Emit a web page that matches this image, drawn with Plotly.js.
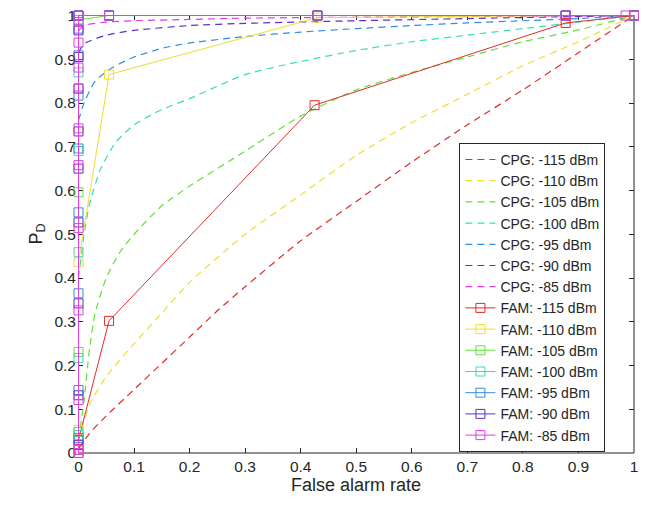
<!DOCTYPE html>
<html>
<head>
<meta charset="utf-8">
<script src="https://cdn.plot.ly/plotly-3.0.1.min.js"></script>
<style>html,body{margin:0;padding:0;background:#fff;}#chart{width:650px;height:508px;}</style>
</head>
<body>
<div id="chart"></div>
<script>
// ---- Data ----
const levels = ['-115', '-110', '-105', '-100', '-95', '-90', '-85'];
const colors = ['#e32b2b', '#f0dd30', '#62e03a', '#33e0b8', '#2f8ee0', '#5a32c8', '#e23ce2'];

// CPG curves (dashed)
const cpgX115 = [0, 0.02, 0.05, 0.1, 0.15, 0.2, 0.25, 0.3, 0.4, 0.5, 0.6, 0.7, 0.8, 0.9, 1];
const cpgY115 = [0.01, 0.045, 0.085, 0.145, 0.205, 0.265, 0.325, 0.38, 0.485, 0.575, 0.665, 0.75, 0.83, 0.915, 1];
const cpgX110 = [0, 0.02, 0.05, 0.1, 0.15, 0.2, 0.3, 0.4, 0.5, 0.6, 0.7, 0.8, 0.9, 1];
const cpgY110 = [0.03, 0.11, 0.175, 0.25, 0.32, 0.39, 0.50, 0.59, 0.68, 0.755, 0.82, 0.885, 0.94, 1];
const cpgX105 = [0, 0.01, 0.02, 0.03, 0.05, 0.075, 0.1, 0.15, 0.2, 0.3, 0.4, 0.5, 0.6, 0.7, 0.8, 0.9, 1];
const cpgY105 = [0.03, 0.12, 0.24, 0.32, 0.40, 0.46, 0.50, 0.565, 0.61, 0.69, 0.77, 0.83, 0.87, 0.905, 0.94, 0.967, 1];
const cpgX100 = [0, 0.005, 0.01, 0.02, 0.04, 0.067, 0.1, 0.15, 0.2, 0.3, 0.4, 0.5, 0.6, 0.7, 0.8, 0.9, 1];
const cpgY100 = [0.40, 0.45, 0.50, 0.57, 0.65, 0.71, 0.75, 0.785, 0.81, 0.865, 0.895, 0.92, 0.94, 0.955, 0.97, 0.985, 1];
const cpgX95 = [0, 0.01, 0.03, 0.06, 0.1, 0.15, 0.2, 0.3, 0.4, 0.5, 0.6, 0.7, 0.8, 0.9, 1];
const cpgY95 = [0.76, 0.80, 0.85, 0.88, 0.905, 0.925, 0.937, 0.952, 0.962, 0.97, 0.977, 0.983, 0.988, 0.993, 1];
const cpgX90 = [0, 0.01, 0.05, 0.1, 0.2, 0.3, 0.5, 0.7, 1];
const cpgY90 = [0.915, 0.935, 0.955, 0.966, 0.977, 0.982, 0.988, 0.993, 1];
const cpgX85 = [0, 0.01, 0.05, 0.1, 0.2, 0.3, 0.5, 1];
const cpgY85 = [0.965, 0.977, 0.985, 0.988, 0.991, 0.994, 0.996, 1];

// FAM curves (solid with square markers)
const famX115 = [0, 0, 0.055, 0.425, 0.877, 1];
const famY115 = [0, 0.03, 0.302, 0.795, 0.983, 1];
const famX110 = [0, 0, 0, 0.055, 0.43, 0.877, 1];
const famY110 = [0, 0.053, 0.436, 0.865, 0.995, 1, 1];
const famX105 = [0, 0, 0, 0, 0.055, 0.43, 0.877, 1];
const famY105 = [0.048, 0.231, 0.596, 0.99, 1, 1, 1, 1];
const famX100 = [0, 0, 0, 0, 0, 0, 0.055, 0.43, 0.877, 1];
const famY100 = [0.041, 0.217, 0.459, 0.69, 0.87, 1, 1, 1, 1, 1];
const famX95 = [0, 0, 0, 0, 0, 0, 0, 0, 0, 0.055, 0.43, 0.877, 1];
const famY95 = [0.034, 0.144, 0.365, 0.55, 0.696, 0.817, 0.909, 0.97, 1, 1, 1, 1, 1];
const famX90 = [0, 0, 0, 0, 0, 0, 0, 0, 0, 0, 0.055, 0.43, 0.877, 1];
const famY90 = [0.018, 0.132, 0.342, 0.527, 0.65, 0.735, 0.833, 0.905, 0.966, 1, 1, 1, 1, 1];
const famX85 = [0, 0, 0, 0, 0, 0, 0, 0, 0, 0, 0, 0, 0.055, 0.43, 0.877, 0.985, 1];
const famY85 = [0, 0.007, 0.121, 0.326, 0.514, 0.658, 0.742, 0.833, 0.881, 0.938, 0.985, 1, 1, 1, 1, 1, 1];

const ticks = [0, 0.1, 0.2, 0.3, 0.4, 0.5, 0.6, 0.7, 0.8, 0.9, 1];
const tickText = ['0', '0.1', '0.2', '0.3', '0.4', '0.5', '0.6', '0.7', '0.8', '0.9', '1'];

const cpgX = [cpgX115, cpgX110, cpgX105, cpgX100, cpgX95, cpgX90, cpgX85];
const cpgY = [cpgY115, cpgY110, cpgY105, cpgY100, cpgY95, cpgY90, cpgY85];
const famX = [famX115, famX110, famX105, famX100, famX95, famX90, famX85];
const famY = [famY115, famY110, famY105, famY100, famY95, famY90, famY85];

const FONT = 'Liberation Sans, Arial, sans-serif';
const AX = '#262626';
const traces = [];
levels.forEach((lv, i) => {
  traces.push({
    x: cpgX[i], y: cpgY[i], type: 'scatter', mode: 'lines',
    name: 'CPG: ' + lv + ' dBm',
    line: {color: colors[i], width: 1.2, dash: '7px,5px', shape: 'spline', smoothing: 0.6},
    cliponaxis: false
  });
});
levels.forEach((lv, i) => {
  traces.push({
    x: famX[i], y: famY[i], type: 'scatter', mode: 'lines+markers',
    name: 'FAM: ' + lv + ' dBm',
    line: {color: colors[i], width: 1},
    marker: {symbol: 'square-open', size: 9, color: colors[i], line: {width: 1, color: colors[i]}},
    cliponaxis: false
  });
});

const axisCommon = {
  tickvals: ticks, ticktext: tickText,
  showgrid: false, zeroline: false, showline: false,
  mirror: 'ticks', ticks: 'inside', ticklen: 5, tickcolor: AX, tickwidth: 1,
  tickfont: {family: FONT, size: 15.5, color: AX},
  layer: 'below traces', fixedrange: true
};

// axes box drawn as shapes beneath the traces (so curves on the border cover it)
const boxShapes = [
  {type: 'line', xref: 'x', yref: 'paper', x0: 0, x1: 0, y0: 0, y1: 1, line: {color: AX, width: 1}, layer: 'below'},
  {type: 'line', xref: 'paper', yref: 'y', x0: 0, x1: 1, y0: 1, y1: 1, line: {color: AX, width: 1}, layer: 'below'},
  {type: 'line', xref: 'paper', yref: 'paper', x0: 0, x1: 1, y0: 0, y1: 0, line: {color: AX, width: 1}, layer: 'below'},
  {type: 'line', xref: 'paper', yref: 'paper', x0: 1, x1: 1, y0: 0, y1: 1, line: {color: AX, width: 1}, layer: 'below'}
];

const layout = {
  width: 650, height: 508,
  margin: {l: 78, r: 16, t: 15, b: 55},
  paper_bgcolor: '#ffffff', plot_bgcolor: '#ffffff',
  showlegend: true,
  shapes: boxShapes,
  xaxis: Object.assign({}, axisCommon, {
    range: [-0.0009, 1], ticklabelstandoff: 2,
    title: {text: 'False alarm rate', font: {family: FONT, size: 18, color: AX}, standoff: 4}
  }),
  yaxis: Object.assign({}, axisCommon, {
    range: [0, 1.00114], ticklabelstandoff: 1,
    title: {text: 'P<sub>D</sub>', font: {family: FONT, size: 18, color: AX}, standoff: 7}
  }),
  legend: {
    x: 0.686, y: 0.708, xanchor: 'left', yanchor: 'top',
    bgcolor: '#ffffff', bordercolor: AX, borderwidth: 1,
    font: {family: FONT, size: 14, color: AX},
    itemwidth: 30, tracegroupgap: 0
  }
};

Plotly.newPlot('chart', traces, layout, {staticPlot: true, displayModeBar: false});
</script>
</body>
</html>
